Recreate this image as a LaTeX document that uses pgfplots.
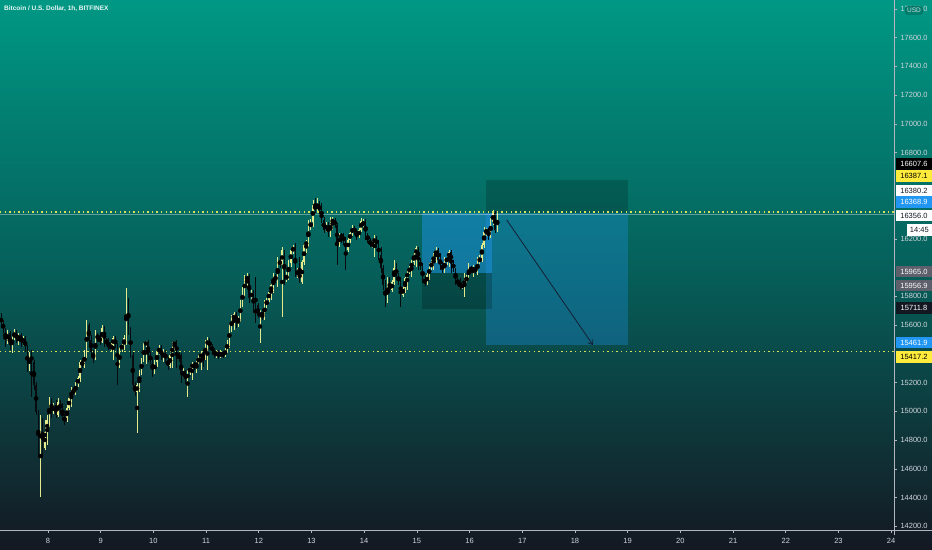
\documentclass[border=0pt]{standalone}
\usepackage{pgfplots}
\pgfplotsset{compat=1.18}
\usepackage{pgfplotstable}
\usepackage{fontspec}
\setmainfont{Liberation Sans}
\usetikzlibrary{arrows.meta}
\definecolor{bgtop}{RGB}{0,152,132}
\definecolor{bgmid}{RGB}{6,94,89}
\definecolor{bgbot}{RGB}{20,24,34}
\definecolor{cup}{RGB}{228,234,140}
\definecolor{cdown}{RGB}{8,12,14}
\definecolor{axisgrey}{RGB}{178,181,190}
\definecolor{ticktext}{RGB}{209,212,220}
\definecolor{tvblue}{RGB}{33,150,243}
\definecolor{tvyellow}{RGB}{255,235,59}
\definecolor{tvgrey}{RGB}{93,96,107}
\definecolor{tvdark}{RGB}{19,23,34}
\definecolor{dotyellow}{RGB}{214,226,90}
\definecolor{arrowc}{RGB}{20,30,52}

\pgfplotstableread{
o h l c
15650 15685 15587 15622
15622 15636 15545 15566
15566 15580 15448 15497
15497 15566 15469 15545
15545 15559 15427 15462
15462 15545 15406 15510
15510 15573 15497 15552
15552 15566 15476 15497
15497 15545 15462 15531
15531 15545 15448 15483
15483 15524 15455 15510
15510 15524 15413 15441
15441 15462 15274 15302
15302 15413 15281 15392
15392 15427 15100 15344
15344 15358 15149 15184
15184 15205 14975 14996
14996 15010 14676 14718
14718 14975 14404 14940
14940 14954 14676 14745
14745 14940 14732 14857
14857 14975 14766 14940
14940 15100 14891 15079
15079 15093 14954 14996
14996 15058 14982 15044
15044 15079 14954 14975
14975 15093 14961 15065
15065 15079 14989 15010
15010 15058 14940 14954
14954 14982 14905 14940
14940 15058 14926 15023
15023 15107 15010 15093
15093 15170 15030 15149
15149 15163 15114 15135
15135 15205 15114 15191
15191 15246 15170 15232
15232 15358 15205 15344
15344 15365 15302 15323
15323 15427 15302 15399
15399 15636 15371 15601
15601 15615 15462 15497
15497 15531 15392 15413
15413 15427 15337 15371
15371 15566 15358 15531
15531 15545 15483 15510
15510 15545 15462 15483
15483 15601 15476 15580
15580 15594 15448 15497
15497 15510 15455 15476
15476 15510 15427 15441
15441 15476 15420 15462
15462 15524 15358 15510
15510 15524 15441 15462
15462 15476 15184 15323
15323 15448 15302 15427
15427 15483 15413 15462
15462 15531 15427 15510
15510 15858 15462 15775
15775 15789 15531 15566
15566 15587 15371 15392
15392 15413 15149 15184
15184 15205 15107 15135
15135 15198 14850 15184
15184 15288 15135 15274
15274 15371 15253 15358
15358 15476 15344 15462
15462 15490 15330 15483
15483 15497 15344 15392
15392 15413 15330 15358
15358 15371 15239 15274
15274 15358 15260 15344
15344 15434 15309 15413
15413 15462 15392 15441
15441 15462 15358 15371
15371 15434 15344 15413
15413 15427 15337 15358
15358 15378 15288 15316
15316 15406 15302 15392
15392 15483 15302 15462
15462 15490 15427 15483
15483 15497 15302 15392
15392 15413 15344 15371
15371 15406 15198 15253
15253 15302 15232 15274
15274 15288 15191 15219
15219 15288 15100 15274
15274 15323 15253 15302
15302 15344 15219 15330
15330 15344 15288 15309
15309 15358 15267 15344
15344 15392 15323 15371
15371 15420 15288 15406
15406 15427 15309 15371
15371 15497 15358 15462
15462 15517 15288 15497
15497 15510 15427 15448
15448 15469 15406 15427
15427 15441 15371 15392
15392 15427 15371 15413
15413 15427 15364 15385
15385 15427 15371 15406
15406 15420 15371 15392
15392 15441 15378 15427
15427 15497 15406 15476
15476 15615 15441 15580
15580 15671 15552 15636
15636 15692 15566 15678
15678 15692 15580 15622
15622 15664 15587 15650
15650 15775 15622 15754
15754 15865 15726 15831
15831 15949 15796 15914
15914 15963 15845 15942
15942 15956 15754 15789
15789 15845 15775 15831
15831 15845 15685 15720
15720 15935 15615 15671
15740 15754 15650 15664
15664 15706 15476 15685
15685 15692 15636 15671
15671 15775 15636 15740
15740 15789 15720 15775
15775 15845 15761 15831
15831 15893 15775 15879
15879 15963 15824 15942
15942 15956 15893 15914
15914 16074 15865 16053
16053 16067 15998 16019
16019 16144 15657 16123
16109 16123 15879 15914
15914 15970 15900 15949
15949 16053 15914 16032
16032 16144 16005 16123
16123 16158 16095 16137
16137 16172 15935 15949
15949 15998 15928 15984
15984 16074 15893 15900
15900 16053 15886 16039
16039 16172 16019 16158
16158 16193 16102 16179
16179 16332 16144 16276
16276 16338 16262 16318
16318 16471 16283 16436
16436 16485 16380 16401
16401 16485 16380 16450
16450 16464 16366 16387
16387 16450 16311 16332
16332 16352 16241 16262
16262 16318 16248 16297
16297 16318 16213 16227
16227 16352 16213 16318
16318 16352 16262 16332
16332 16345 16276 16297
16297 16311 16019 16158
16158 16241 16144 16227
16227 16241 16172 16213
16213 16241 16158 16193
16193 16213 15984 16123
16123 16206 16109 16193
16193 16262 16172 16241
16241 16297 16220 16276
16276 16290 16234 16248
16248 16262 16193 16220
16220 16276 16206 16262
16262 16345 16248 16325
16290 16338 16276 16325
16325 16338 16193 16227
16227 16241 16172 16193
16193 16206 16144 16158
16158 16186 16137 16172
16172 16227 16074 16206
16206 16220 16137 16158
16158 16193 16053 16088
16088 16144 15963 15998
15998 16019 15845 15879
15879 15914 15726 15775
15775 15935 15754 15879
15879 15935 15824 15845
15845 15914 15831 15900
15900 16053 15879 15998
15998 16032 15914 15949
15949 15963 15879 15900
15900 15935 15726 15810
15810 15879 15796 15858
15858 15935 15824 15928
15928 15984 15845 15970
15970 16012 15956 15998
15998 16053 15935 16039
16039 16123 16019 16088
16088 16151 16005 16137
16137 16144 15984 16053
16053 16067 15984 15998
15998 16032 15893 15914
15914 15942 15872 15893
15893 15963 15879 15949
15949 16032 15914 15998
15998 16053 15984 16039
16039 16102 15984 16088
16088 16144 16032 16123
16123 16137 16039 16053
16053 16102 15984 16019
16019 16039 15963 15984
15984 16074 15963 16039
16039 16088 16019 16067
16067 16123 16005 16109
16109 16123 15963 16039
16039 16053 15970 15984
15984 15998 15879 15914
15914 15928 15872 15893
15893 15928 15845 15865
15865 15893 15852 15879
15879 15963 15796 15914
15914 15949 15893 15928
15928 16032 15914 15998
15998 16012 15963 15984
15984 16019 15935 15998
15998 16012 15956 15970
15970 16074 15949 16039
16039 16088 16025 16067
16067 16172 16039 16158
16158 16283 16137 16248
16248 16276 16220 16262
16262 16276 16193 16220
16220 16345 16206 16318
16318 16401 16297 16380
16380 16394 16241 16262
16262 16387 16248 16359
}\candles

\tikzset{plab/.style={anchor=west, inner xsep=1bp, inner ysep=0bp, minimum height=11.5bp, minimum width=36.5bp, font=\fontsize{7.5bp}{9bp}\selectfont}}

\begin{document}
\begin{tikzpicture}
\useasboundingbox (0bp,-20bp) rectangle (932bp,530bp);
\shade[top color=bgtop, bottom color=bgbot, middle color=bgmid] (0bp,-20bp) rectangle (932bp,530bp);
\begin{axis}[
  at={(0bp,0bp)}, anchor=south west,
  width=894bp, height=530bp, scale only axis,
  xmin=7.09, xmax=24.054, ymin=14175, ymax=17862,
  axis x line=bottom, axis y line=right,
  axis line style={draw=axisgrey, line width=0.9bp, -},
  tick align=outside, major tick length=3bp,
  tick style={draw=axisgrey, line width=0.7bp},
  xtick={8,...,24},
  ytick={14200,14400,14600,14800,15000,15200,15600,15800,16200,16800,17000,17200,17400,17600,17800},
  scaled y ticks=false,
  ticklabel style={font=\fontsize{7.5bp}{9bp}\selectfont, text=ticktext},
  xticklabel style={yshift=-1.5bp},
  yticklabel style={/pgf/number format/fixed, /pgf/number format/fixed zerofill, /pgf/number format/precision=1, /pgf/number format/1000 sep={}},
  /pgf/number format/assume math mode=true,
]
% position tools
\fill[black, opacity=0.18] (axis cs:16.31,16380.2) rectangle (axis cs:19.0,16607.6);
\fill[tvblue, opacity=0.3] (axis cs:16.31,15461.9) rectangle (axis cs:19.0,16380.2);
\fill[tvblue, opacity=0.45] (axis cs:15.10,15965.0) rectangle (axis cs:16.43,16380.2);
\fill[black, opacity=0.2] (axis cs:15.10,15711.8) rectangle (axis cs:16.43,15965.0);
% wicks
\addplot[only marks, mark=none, forget plot,
  error bars/.cd, y dir=both, y explicit, error mark=none,
  error bar style={draw=cup, line width=0.5bp}]
  table[x expr=7.109+\coordindex/24,
        y expr={\thisrow{c}>=\thisrow{o} ? 0.5*(\thisrow{h}+\thisrow{l}) : nan},
        y error expr={0.5*(\thisrow{h}-\thisrow{l})}] {\candles};
\addplot[only marks, mark=none, forget plot,
  error bars/.cd, y dir=both, y explicit, error mark=none,
  error bar style={draw=cdown, line width=0.5bp}]
  table[x expr=7.109+\coordindex/24,
        y expr={\thisrow{c}<\thisrow{o} ? 0.5*(\thisrow{h}+\thisrow{l}) : nan},
        y error expr={0.5*(\thisrow{h}-\thisrow{l})}] {\candles};
% bodies
\addplot[only marks, mark=none, forget plot,
  error bars/.cd, y dir=both, y explicit, error mark=none,
  error bar style={draw=cup, line width=1.3bp}]
  table[x expr=7.109+\coordindex/24,
        y expr={\thisrow{c}>=\thisrow{o} ? 0.5*(\thisrow{o}+\thisrow{c}) : nan},
        y error expr={max(0.5*abs(\thisrow{c}-\thisrow{o}),4)}] {\candles};
\addplot[only marks, mark=none, forget plot,
  error bars/.cd, y dir=both, y explicit, error mark=none,
  error bar style={draw=cdown, line width=1.3bp}]
  table[x expr=7.109+\coordindex/24,
        y expr={\thisrow{c}<\thisrow{o} ? 0.5*(\thisrow{o}+\thisrow{c}) : nan},
        y error expr={max(0.5*abs(\thisrow{c}-\thisrow{o}),4)}] {\candles};
% lines
\draw[white, opacity=0.35, line width=0.6bp] (axis cs:7.09,16368.9) -- (axis cs:24.054,16368.9);
\draw[dotyellow, line width=1.3bp, dash pattern=on 1.3bp off 3.3bp] (axis cs:7.09,16387.1) -- (axis cs:24.054,16387.1);
\draw[dotyellow, line width=1.3bp, dash pattern=on 1.3bp off 3.3bp] (axis cs:7.09,15417.2) -- (axis cs:24.054,15417.2);
\draw[arrowc, line width=0.8bp, -{Straight Barb[length=4bp,width=6bp]}] (axis cs:16.705,16332) -- (axis cs:18.342,15462);
\end{axis}
% axis line extensions
\draw[axisgrey, line width=0.9bp] (894bp,0bp) -- (932bp,0bp);
\draw[axisgrey, line width=0.9bp] (894bp,0bp) -- (894bp,-5bp);
% title
\node[anchor=west, text=white!92!bgtop, font=\fontsize{6.5bp}{8bp}\selectfont\bfseries, inner sep=0pt] at (4bp,521bp) {Bitcoin / U.S. Dollar, 1h, BITFINEX};
% USD box
\node[fill=bgtop!85!black, draw=bgtop!60!black, rounded corners=2bp, text=ticktext, font=\fontsize{6.5bp}{8bp}\selectfont, inner xsep=1.5bp, inner ysep=1.5bp] at (914bp,519.5bp) {USD};
% price labels
\node[plab, fill=black, text=white] at (895.5bp,366bp) {16607.6};
\node[plab, fill=tvyellow, text=black] at (895.5bp,354bp) {16387.1};
\node[plab, fill=white, text=tvdark] at (895.5bp,339bp) {16380.2};
\node[plab, fill=tvblue, text=white] at (895.5bp,328bp) {16368.9};
\node[plab, fill=white, text=tvdark] at (895.5bp,314.3bp) {16356.0};
\node[anchor=east, fill=white, text=tvdark, inner xsep=1bp, inner ysep=0bp, minimum height=11.5bp, minimum width=25bp, font=\fontsize{7.5bp}{9bp}\selectfont] at (932bp,300bp) {14:45};
\node[plab, fill=tvgrey, text=white] at (895.5bp,258.3bp) {15965.0};
\node[plab, fill=tvgrey, text=white] at (895.5bp,244.3bp) {15956.9};
\node[plab, fill=tvdark, text=white] at (895.5bp,222bp) {15711.8};
\node[plab, fill=tvblue, text=white] at (895.5bp,187.3bp) {15461.9};
\node[plab, fill=tvyellow, text=black] at (895.5bp,173bp) {15417.2};
\end{tikzpicture}
\end{document}
